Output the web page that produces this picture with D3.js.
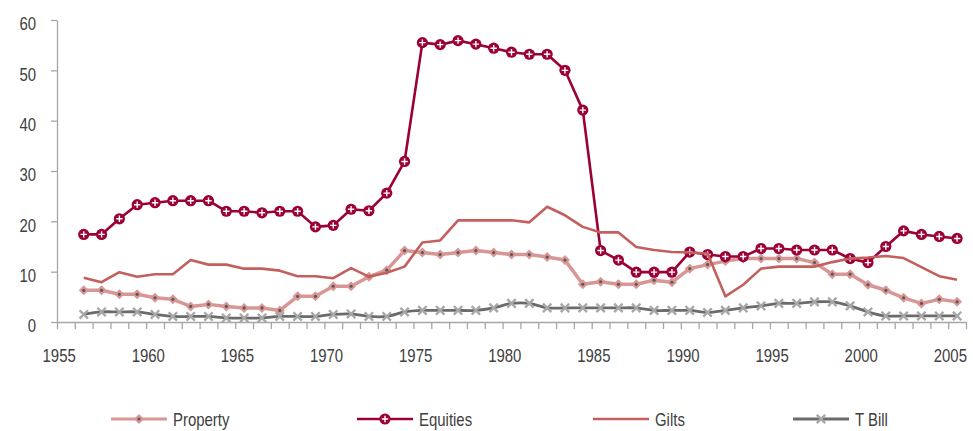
<!DOCTYPE html>
<html>
<head>
<meta charset="utf-8">
<script src="https://cdn.jsdelivr.net/npm/d3@7"></script>
<style>
  body { margin: 0; background: #fff; }
  svg text { font-family: "Liberation Sans Narrow", "Liberation Sans", Arial, sans-serif; fill: #404040; font-size: 18px; }
</style>
</head>
<body>
<script>
//data, one value per year
var years = [1956,1957,1958,1959,1960,1961,1962,1963,1964,1965,
  1966,1967,1968,1969,1970,1971,1972,1973,1974,1975,
  1976,1977,1978,1979,1980,1981,1982,1983,1984,1985,
  1986,1987,1988,1989,1990,1991,1992,1993,1994,1995,
  1996,1997,1998,1999,2000,2001,2002,2003,2004,2005];

var property = [6.3,6.3,5.5,5.5,4.8,4.5,3.1,3.5,3.1,2.8,
  2.8,2.3,5.1,5.1,7.1,7.1,9.0,10.3,14.2,13.8,
  13.4,13.8,14.2,13.8,13.4,13.4,12.9,12.3,7.5,8.0,
  7.5,7.5,8.3,7.9,10.6,11.4,12.1,12.6,12.6,12.6,
  12.6,11.8,9.5,9.5,7.4,6.3,4.8,3.7,4.5,4.0];

var equities = [17.4,17.4,20.5,23.3,23.7,24.1,24.1,24.1,22.0,22.0,
  21.7,22.0,22.0,18.9,19.2,22.4,22.1,25.6,31.9,55.5,
  55.1,55.9,55.2,54.4,53.6,53.2,53.2,50.0,42.1,14.2,
  12.3,9.9,9.9,9.9,13.9,13.4,13.0,13.0,14.6,14.6,
  14.3,14.3,14.3,12.6,11.8,15.0,18.1,17.4,17.0,16.6];

var gilts = [8.8,7.9,9.9,9.0,9.5,9.5,12.3,11.4,11.4,10.6,
  10.6,10.2,9.1,9.1,8.7,10.7,9.0,9.8,11.0,15.8,
  16.2,20.2,20.2,20.2,20.2,19.8,22.9,21.2,18.9,17.8,
  17.8,14.9,14.3,13.9,13.8,13.6,5.1,7.4,10.6,11.0,
  11.0,11.0,11.9,12.6,12.8,13.1,12.7,10.9,9.1,8.4];

var tbill = [1.5,2.0,2.0,2.0,1.5,1.1,1.1,1.1,0.8,0.8,
  0.8,1.1,1.1,1.1,1.5,1.6,1.1,1.1,2.0,2.3,
  2.3,2.3,2.3,2.8,3.7,3.7,2.8,2.8,2.8,2.8,
  2.8,2.8,2.3,2.3,2.3,1.9,2.3,2.8,3.2,3.7,
  3.7,4.0,4.0,3.2,2.0,1.2,1.2,1.2,1.2,1.2];

var seriesNames = ["Property", "Equities", "Gilts", "T Bill"];
var yTicks = [0, 10, 20, 30, 40, 50, 60];
var xTicks = [1955,1956,1957,1958,1959,1960,1961,1962,1963,1964,1965,1966,1967,1968,1969,1970,
  1971,1972,1973,1974,1975,1976,1977,1978,1979,1980,1981,1982,1983,1984,1985,1986,1987,1988,
  1989,1990,1991,1992,1993,1994,1995,1996,1997,1998,1999,2000,2001,2002,2003,2004,2005,2006];

//colours
var colProperty = "#d99694", colEquities = "#9b0036", colGilts = "#c3605e",
  colTbill = "#6b6b6b", colTbillMark = "#a8a8a8", axisCol = "#a6a6a6";

var width = 973, height = 431;
var squeeze = 0.83; //the original font is a narrow one

var svg = d3.select("body").append("svg")
  .attr("width", width)
  .attr("height", height);

//scales: one category per year, points sit in the middle of it
var x = d3.scaleLinear().domain([1955, 2006]).range([57, 966]);
var y = d3.scaleLinear().domain([0, 60]).range([322, 20]);

//y axis
var yAxis = svg.append("g")
  .attr("class", "yaxis")
  .attr("transform", "translate(" + x(1955) + ",0)")
  .call(d3.axisLeft(y).tickValues(yTicks).tickSize(6).tickSizeOuter(0).tickPadding(15));
yAxis.selectAll("text")
  .attr("x", -21 / squeeze)
  .attr("dy", "0.55em")
  .attr("transform", "scale(" + squeeze + ",1)");

//x axis, a tick each year, label each 5 years
var xAxis = svg.append("g")
  .attr("class", "xaxis")
  .attr("transform", "translate(0," + y(0) + ")")
  .call(d3.axisBottom(x).tickValues(xTicks).tickSize(7).tickSizeOuter(0).tickPadding(20)
    .tickFormat(function(d){ return d % 5 == 0 ? d : ""; }));
xAxis.selectAll("text")
  .attr("dx", 2)
  .attr("transform", "scale(" + squeeze + ",1)");

svg.selectAll(".yaxis path, .yaxis line, .xaxis path, .xaxis line")
  .attr("stroke", axisCol)
  .attr("stroke-width", 1.3);

function xPos(i){ return x(years[i] + 0.5); }

function makeLine(curve){
  return d3.line()
    .x(function(d, i){ return xPos(i); })
    .y(function(d){ return y(d); })
    .curve(curve);
}

//marker drawers
function diamond(g, col){
  g.append("path").attr("d", "M0,-5L5,0L0,5L-5,0Z").attr("fill", col);
  g.append("circle").attr("r", 1.6).attr("fill", "#5a5a5a");
}
function plusCircle(g, col){
  g.append("circle").attr("r", 5.6).attr("fill", col);
  g.append("path").attr("d", "M-3.2,0H3.2M0,-3.2V3.2")
    .attr("stroke", "#fff").attr("stroke-width", 1.4);
}
function cross(g, col){
  g.append("path").attr("d", "M-4.2,-4.2L4.2,4.2M-4.2,4.2L4.2,-4.2")
    .attr("stroke", col).attr("stroke-width", 2.4);
}

var series = [
  {name: seriesNames[0], values: property, color: colProperty, width: 3.5, curve: d3.curveLinear, marker: diamond, markCol: colProperty},
  {name: seriesNames[1], values: equities, color: colEquities, width: 2.6, curve: d3.curveLinear, marker: plusCircle, markCol: colEquities},
  {name: seriesNames[2], values: gilts, color: colGilts, width: 2.6, curve: d3.curveLinear, marker: null},
  {name: seriesNames[3], values: tbill, color: colTbill, width: 2.8, curve: d3.curveCatmullRom, marker: cross, markCol: colTbillMark}
];

series.forEach(function(s){
  svg.append("path")
    .datum(s.values)
    .attr("class", "line")
    .attr("fill", "none")
    .attr("stroke", s.color)
    .attr("stroke-width", s.width)
    .attr("stroke-linejoin", "round")
    .attr("d", makeLine(s.curve));

  if (s.marker){
    svg.selectAll(".mark-" + s.name.replace(" ", ""))
      .data(s.values)
      .enter()
      .append("g")
      .attr("class", "mark-" + s.name.replace(" ", ""))
      .attr("transform", function(d, i){ return "translate(" + xPos(i) + "," + y(d) + ")"; })
      .each(function(){ s.marker(d3.select(this), s.markCol); });
  }
});

//legend
var legendX = [111, 357, 593, 793];
var legendY = 419;
var legend = svg.selectAll(".legend")
  .data(series)
  .enter()
  .append("g")
  .attr("class", "legend")
  .attr("transform", function(d, i){ return "translate(" + legendX[i] + "," + legendY + ")"; });

legend.append("line")
  .attr("x1", 0).attr("x2", 56)
  .attr("stroke", function(d){ return d.color; })
  .attr("stroke-width", function(d){ return Math.min(d.width, 3); });

legend.each(function(d){
  if (d.marker){
    var g = d3.select(this).append("g").attr("transform", "translate(28,0)");
    d.marker(g, d.markCol);
  }
});

legend.append("text")
  .attr("x", 62 / squeeze)
  .attr("y", 7)
  .attr("transform", "scale(" + squeeze + ",1)")
  .text(function(d){ return d.name; });
</script>
</body>
</html>
